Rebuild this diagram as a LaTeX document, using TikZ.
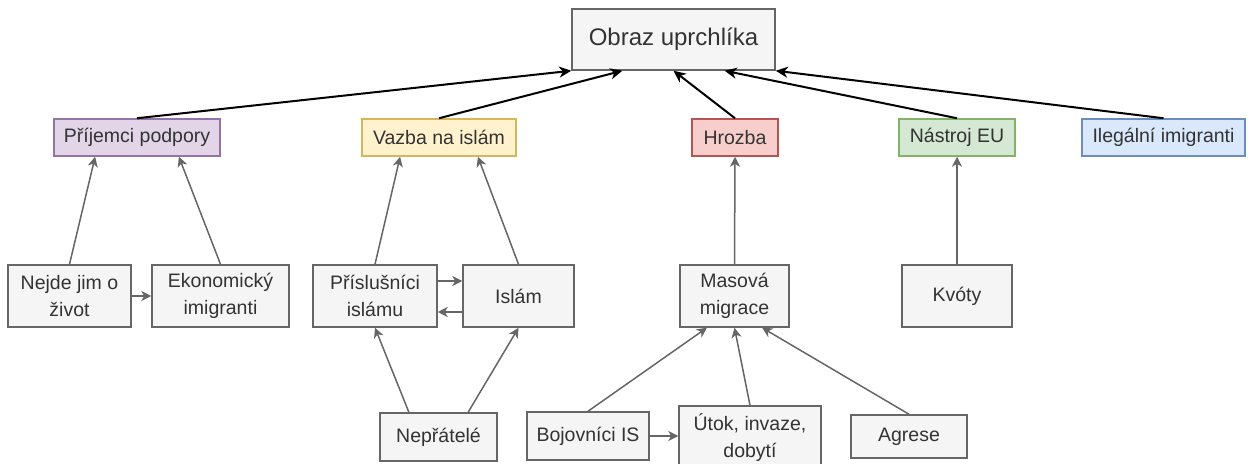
\documentclass[tikz,border=0pt]{standalone}
\usepackage{fontspec}
\setmainfont{Liberation Sans}
\usepackage{tikz}
\usetikzlibrary{arrows.meta,calc}

\definecolor{boxfill}{HTML}{F5F5F5}
\definecolor{boxline}{HTML}{666666}
\definecolor{boxtext}{HTML}{333333}
\definecolor{purplefill}{HTML}{E1D5E7}
\definecolor{purpleline}{HTML}{9673A6}
\definecolor{yellowfill}{HTML}{FFF2CC}
\definecolor{yellowline}{HTML}{D6B656}
\definecolor{redfill}{HTML}{F8CECC}
\definecolor{redline}{HTML}{B85450}
\definecolor{greenfill}{HTML}{D5E8D4}
\definecolor{greenline}{HTML}{82B366}
\definecolor{bluefill}{HTML}{DAE8FC}
\definecolor{blueline}{HTML}{6C8EBF}

\tikzstyle{leafbox} = [rectangle, draw=boxline, fill=boxfill, text=boxtext, line width=0.75pt, align=center, inner sep=0pt, font=\fontsize{9.75}{13.5}\selectfont]
\tikzstyle{topicbox} = [leafbox, minimum height=18.5pt]
\tikzstyle{rootbox} = [leafbox, minimum width=101.5pt, minimum height=30.5pt, font=\fontsize{12}{14}\selectfont]
\tikzstyle{arrow} = [line width=0.75pt, draw=boxline, ->, >={Stealth[length=5pt,width=5pt,inset=1.5pt]}]
\tikzstyle{mainarrow} = [line width=1pt, draw=black, ->, >={Stealth[length=6pt,width=5.5pt,inset=1.8pt]}]

\begin{document}
\begin{tikzpicture}[x=0.5pt, y=-0.5pt]
  \path[use as bounding box, fill=white] (0,0) rectangle (1252,464);

  % root
  \node[rootbox] (obraz) at (673.5,39.5) {Obraz uprchlíka};

  % topics
  \node[topicbox, minimum width=83pt, fill=purplefill, draw=purpleline] (prijemci) at (137,137.5) {Příjemci podpory};
  \node[topicbox, minimum width=77pt, fill=yellowfill, draw=yellowline] (vazba) at (439,137.5) {Vazba na islám};
  \node[topicbox, minimum width=43pt, fill=redfill, draw=redline] (hrozba) at (735,137.5) {Hrozba};
  \node[topicbox, minimum width=58pt, fill=greenfill, draw=greenline] (nastroj) at (957,137.5) {Nástroj EU};
  \node[topicbox, minimum width=81.5pt, fill=bluefill, draw=blueline] (ilegalni) at (1163.5,137.5) {Ilegální imigranti};

  % middle row
  \node[leafbox, minimum width=61.5pt, minimum height=31pt] (nejde) at (69.5,296) {Nejde jim o\\život};
  \node[leafbox, minimum width=68.5pt, minimum height=31pt] (ekon) at (220.5,296) {Ekonomický\\imigranti};
  \node[leafbox, minimum width=62pt, minimum height=31pt] (prisl) at (375,296) {Příslušníci\\islámu};
  \node[leafbox, minimum width=55.5pt, minimum height=31pt] (islam) at (518.5,296) {Islám};
  \node[leafbox, minimum width=54.5pt, minimum height=31pt] (masova) at (734.5,296) {Masová\\migrace};
  \node[leafbox, minimum width=55pt, minimum height=31pt] (kvoty) at (957,296) {Kvóty};

  % bottom row
  \node[leafbox, minimum width=58.5pt, minimum height=24pt] (nepratele) at (438.5,437) {Nepřátelé};
  \node[leafbox, minimum width=61pt, minimum height=24pt] (bojovnici) at (588,436) {Bojovníci IS};
  \node[leafbox, minimum width=71pt, minimum height=31.5pt] (utok) at (750,437.5) {Útok, invaze,\\dobytí};
  \node[leafbox, minimum width=58pt, minimum height=21.5pt] (agrese) at (909,436.5) {Agrese};

  % into the root
  \draw[mainarrow] (prijemci.north) -- (obraz.south west);
  \draw[mainarrow] (vazba.north) -- ($(obraz.south west)!.25!(obraz.south east)$);
  \draw[mainarrow] (hrozba.north) -- (obraz.south);
  \draw[mainarrow] (nastroj.north) -- ($(obraz.south west)!.75!(obraz.south east)$);
  \draw[mainarrow] (ilegalni.north) -- (obraz.south east);

  % into the topics
  \draw[arrow] (nejde.north) -- ($(prijemci.south west)!.25!(prijemci.south east)$);
  \draw[arrow] (ekon.north) -- ($(prijemci.south west)!.75!(prijemci.south east)$);
  \draw[arrow] (nejde.east) -- (ekon.west);
  \draw[arrow] (prisl.north) -- ($(vazba.south west)!.25!(vazba.south east)$);
  \draw[arrow] (islam.north) -- ($(vazba.south west)!.75!(vazba.south east)$);
  \draw[arrow] ([yshift=7.5pt]prisl.east) -- ([yshift=7.5pt]islam.west);
  \draw[arrow] ([yshift=-8pt]islam.west) -- ([yshift=-8pt]prisl.east);
  \draw[arrow] ($(nepratele.north west)!.25!(nepratele.north east)$) -- (prisl.south);
  \draw[arrow] ($(nepratele.north west)!.75!(nepratele.north east)$) -- (islam.south);
  \draw[arrow] (masova.north) -- (hrozba.south);
  \draw[arrow] (kvoty.north) -- (nastroj.south);
  \draw[arrow] (bojovnici.north) -- ($(masova.south west)!.25!(masova.south east)$);
  \draw[arrow] (utok.north) -- (masova.south);
  \draw[arrow] (agrese.north) -- ($(masova.south west)!.75!(masova.south east)$);
  \draw[arrow] (bojovnici.east) -- (bojovnici.east -| utok.west);
\end{tikzpicture}
\end{document}
